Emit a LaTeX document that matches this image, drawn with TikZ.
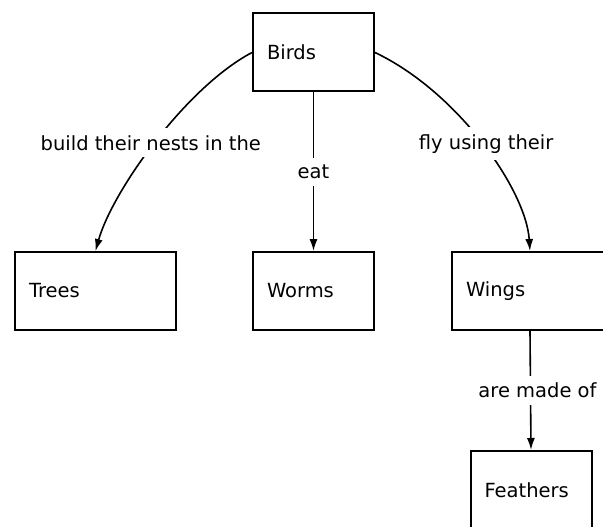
\documentclass[tikz,border=0pt]{standalone}
\usepackage{fontspec}
\setmainfont{DejaVu Sans}
\usetikzlibrary{arrows.meta}

\begin{document}
\begin{tikzpicture}[x=1pt, y=-1pt, >={Latex[length=12pt,width=8pt]},
  concept/.style={draw, line width=2pt, minimum height=78pt, text width=#1,
    inner xsep=14pt, align=left, font=\fontsize{19.5}{23}\selectfont},
  link/.style={->, line width=1.6pt},
  linklabel/.style={fill=white, inner sep=7pt, font=\fontsize{19.5}{23}\selectfont}]

\useasboundingbox (0,0) rectangle (603,527);
\clip (0,0) rectangle (603,527);
\fill[white] (0,0) rectangle (603,527);

% concepts
\node[concept=93pt] (birds) at (313.5,52.5) {Birds};
\node[concept=133pt] (trees) at (95.5,291) {Trees};
\node[concept=93pt] (worms) at (313.5,291) {Worms};
\node[concept=128pt] (wings) at (530,291) {Wings};
\node[concept=93pt] (feathers) at (531,490) {Feathers};

% links
\draw[link] (birds.west) .. controls (185,88) and (112,192) .. (trees.north)
  node[linklabel, pos=0.5, xshift=-4pt] {build their nests in the};
\draw[link] (birds.south) -- (worms.north)
  node[linklabel, midway] {eat};
\draw[link] (birds.east) .. controls (458,92) and (526,190) .. (wings.north)
  node[linklabel, pos=0.5, xshift=4pt] {fly using their};
\draw[link] (wings.south) -- (feathers.north)
  node[linklabel, midway, xshift=7pt] {are made of};

\end{tikzpicture}
\end{document}
